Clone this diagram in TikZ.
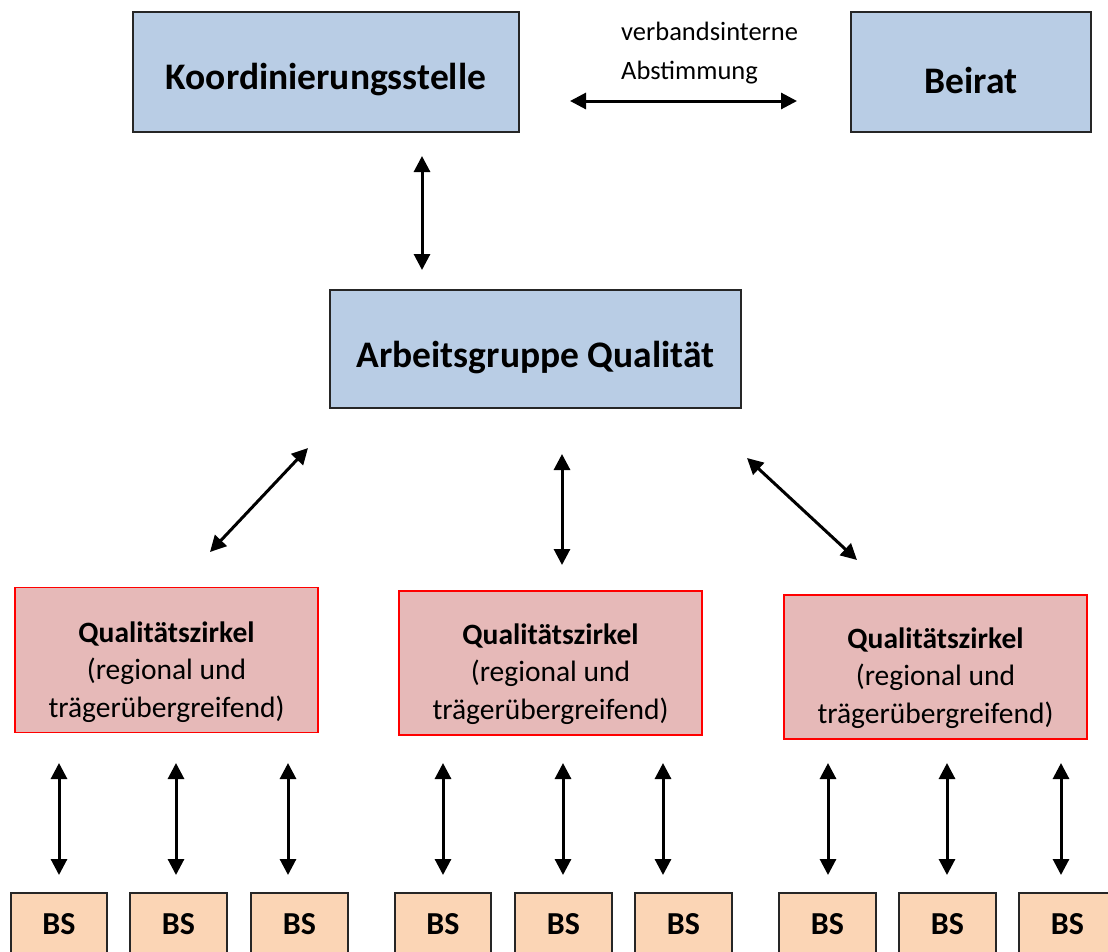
\documentclass[tikz,border=0pt]{standalone}
\usepackage{fontspec}
\setmainfont{Carlito}
\usetikzlibrary{arrows.meta}
\definecolor{boxblue}{HTML}{B9CDE5}
\definecolor{boxpink}{HTML}{E6B9B8}
\definecolor{boxpeach}{HTML}{FBD5B5}
\definecolor{boxborder}{HTML}{262626}
\tikzset{
  bluebox/.style={draw=boxborder, line width=1.5pt, fill=boxblue, inner sep=0pt},
  qzbox/.style={draw=red, line width=1.5pt, fill=boxpink, inner sep=0pt},
  bsbox/.style={draw=boxborder, line width=1.5pt, fill=boxpeach, inner sep=0pt},
  bigtext/.style={font=\fontsize{37.5}{42}\selectfont\bfseries},
  qztext/.style={align=center, font=\fontsize{29.5}{37.5}\selectfont, inner sep=0pt},
  bstext/.style={font=\fontsize{32}{36}\selectfont\bfseries, inner sep=0pt},
  dbl/.style={line width=3pt, {Triangle[length=16pt,width=16pt]}-{Triangle[length=16pt,width=16pt]}},
}
\begin{document}
\begin{tikzpicture}[x=1pt,y=-1pt]
\clip (0,0) rectangle (1108,951);
\fill[white] (0,0) rectangle (1108,951);
% top row
\node[bluebox, minimum width=386pt, minimum height=120pt] (K) at (326,72) {};
\node[bigtext] (Kt) at (326,80) {Koordinierungsstelle};
\node[bluebox, minimum width=240pt, minimum height=120pt] (B) at (971,72) {};
\node[bigtext] (Bt) at (971,80) {Beirat};
\node[anchor=base west, inner sep=0pt, font=\fontsize{26.5}{30}\selectfont] (v1) at (621,40) {verbandsinterne};
\node[anchor=base west, inner sep=0pt, font=\fontsize{26.5}{30}\selectfont] (v2) at (621,79) {Abstimmung};
\coordinate (h1) at (570,101);
\coordinate (h2) at (797,101);
\draw[dbl] (h1) -- (h2);
% second row
\node[bluebox, minimum width=411pt, minimum height=118pt] (AG) at (535.5,349) {};
\node[bigtext] (AGt) at (535.5,358) {Arbeitsgruppe Qualität};
\coordinate (k1) at (422,156);
\coordinate (k2) at (422,270);
\draw[dbl] (k1) -- (k2);
% Qualitätszirkel
\node[qzbox, minimum width=303pt, minimum height=145pt] (Q1) at (166.5,660) {};
\node[qztext] (Q1t) at (166.5,672) {\textbf{Qualitätszirkel}\\(regional und\\trägerübergreifend)};
\node[qzbox, minimum width=303pt, minimum height=144pt] (Q2) at (550.5,663) {};
\node[qztext] (Q2t) at (550.5,674) {\textbf{Qualitätszirkel}\\(regional und\\trägerübergreifend)};
\node[qzbox, minimum width=303pt, minimum height=144pt] (Q3) at (935.5,667) {};
\node[qztext] (Q3t) at (935.5,678) {\textbf{Qualitätszirkel}\\(regional und\\trägerübergreifend)};
\coordinate (a1) at (308,448);
\coordinate (b1) at (210,552);
\coordinate (a2) at (562,454);
\coordinate (b2) at (562,565);
\coordinate (a3) at (747,458);
\coordinate (b3) at (857,560);
\draw[dbl] (a1) -- (b1);
\draw[dbl] (a2) -- (b2);
\draw[dbl] (a3) -- (b3);
% BS boxes
\foreach \i/\l/\r in {1/11/107, 2/130/227, 3/251/348, 4/395/491, 5/515/612, 6/635/732, 7/779/876, 8/899/996, 9/1019/1116}{
  \draw[bsbox] (\l,893) rectangle (\r,970);
  \node[bstext] (BS\i) at ({(\l+\r)/2},924) {BS};
}
\foreach \i/\x in {1/59, 2/176, 3/288, 4/443, 5/563, 6/663, 7/828, 8/947, 9/1061}{
  \coordinate (u\i) at (\x,763);
  \coordinate (d\i) at (\x,875);
  \draw[dbl] (u\i) -- (d\i);
}
\end{tikzpicture}
\end{document}
